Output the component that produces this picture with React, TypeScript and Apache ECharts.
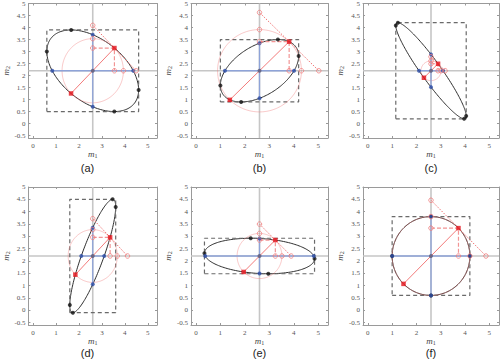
import React, { useEffect, useRef } from "react";
import * as echarts from "echarts";

// ---- data ----
const panelLabels = ["(a)", "(b)", "(c)", "(d)", "(e)", "(f)"];
const meanPoint = [2.6, 2.2];
// standard deviations (half-sizes of dashed box) and correlation per panel
const sigma1 = [2.0, 1.6, 1.45, 1.0, 2.25, 1.6];
const sigma2 = [1.7, 1.3, 2.0, 2.3, 0.72, 1.6];
const rho = [-0.47, 0.47, -0.94, 0.866, -0.16, 0];
const xTicks = [0, 1, 2, 3, 4, 5];
const yTicks = [-0.5, 0, 0.5, 1, 1.5, 2, 2.5, 3, 3.5, 4, 4.5, 5];
const xRange = [-0.2, 5.4];
const yRange = [-0.6, 5];

// ---- layout ----
const boxes = [
  [18, 2, 139, 136],
  [191, 2, 137, 136],
  [363, 2, 136, 136],
  [18, 187, 139, 138],
  [191, 187, 137, 138],
  [363, 187, 136, 138],
];

const SERIF = "'Liberation Serif', 'DejaVu Serif', serif";
const FRAME = "#9a9a9a";

function buildOption() {
  const grid: any[] = [];
  const xAxis: any[] = [];
  const yAxis: any[] = [];
  const series: any[] = [];
  const graphic: any[] = [];
  const [m1, m2] = meanPoint;

  const nameRich = {
    m: { fontFamily: SERIF, fontStyle: "italic", fontSize: 9, color: "#444", lineHeight: 10 },
    s: { fontFamily: SERIF, fontSize: 6, color: "#444", verticalAlign: "bottom", lineHeight: 8 },
  };

  boxes.forEach((b, i) => {
    grid.push({ left: b[0], top: b[1], width: b[2], height: b[3], show: false });
    const common = {
      gridIndex: i,
      type: "value",
      axisLine: { show: true, onZero: false, lineStyle: { color: FRAME, width: 1 } },
      splitLine: { show: false },
    };
    xAxis.push({
      ...common,
      min: xRange[0],
      max: xRange[1],
      position: "bottom",
      axisTick: { show: true, inside: true, length: 2, lineStyle: { color: FRAME }, customValues: xTicks },
      axisLabel: {
        show: true, customValues: xTicks, fontFamily: SERIF, fontSize: 7, color: "#555", margin: 4,
      },
      name: "{m|m}{s|1}",
      nameLocation: "middle",
      nameGap: 9,
      nameTextStyle: { color: "#444", rich: nameRich },
    });
    xAxis.push({
      ...common,
      min: xRange[0],
      max: xRange[1],
      position: "top",
      axisTick: { show: true, inside: true, length: 2, lineStyle: { color: FRAME }, customValues: xTicks },
      axisLabel: { show: false },
    });
    yAxis.push({
      ...common,
      min: yRange[0],
      max: yRange[1],
      position: "left",
      axisTick: { show: true, inside: true, length: 2, lineStyle: { color: FRAME }, customValues: yTicks },
      axisLabel: {
        show: true, customValues: yTicks, fontFamily: SERIF, fontSize: 7, color: "#555", margin: 3,
      },
      name: "{m|m}{s|2}",
      nameLocation: "middle",
      nameGap: 12,
      nameRotate: 90,
      nameTextStyle: { color: "#444", rich: nameRich },
    });
    yAxis.push({
      ...common,
      min: yRange[0],
      max: yRange[1],
      position: "right",
      axisTick: { show: true, inside: true, length: 2, lineStyle: { color: FRAME }, customValues: yTicks },
      axisLabel: { show: false },
    });

    const xi = 2 * i;
    const yi = 2 * i;
    const s1 = sigma1[i];
    const s2 = sigma2[i];
    const r = rho[i];
    const q = Math.sqrt(1 - r * r);
    const h1 = s1 * q;
    const h2 = s2 * q;
    const t = Math.sqrt((s1 * s1 * s2 * s2 * (1 - r * r)) / (s1 * s1 + s2 * s2 - 2 * r * s1 * s2));
    const rad = t * Math.SQRT2;

    const line = (data: number[][], color: string, width: number, type: any = "solid", z = 2) => ({
      type: "line",
      xAxisIndex: xi,
      yAxisIndex: yi,
      data,
      symbol: "none",
      silent: true,
      z,
      lineStyle: { color, width, type },
    });
    const dots = (data: number[][], color: string, size: number, symbol = "circle", z = 5) => ({
      type: "scatter",
      xAxisIndex: xi,
      yAxisIndex: yi,
      data,
      symbol,
      symbolSize: size,
      silent: true,
      z,
      itemStyle: { color },
    });
    const curve = (a1: number, a2: number, c: number, color: string, width: number, z: number) => ({
      type: "custom",
      xAxisIndex: xi,
      yAxisIndex: yi,
      data: [[m1, m2]],
      silent: true,
      z,
      renderItem: (_p: any, api: any) => {
        const pts: number[][] = [];
        const qq = Math.sqrt(1 - c * c);
        for (let k = 0; k <= 180; k++) {
          const th = (k / 180) * Math.PI * 2;
          const x = m1 + a1 * Math.cos(th);
          const y = m2 + a2 * (c * Math.cos(th) + qq * Math.sin(th));
          pts.push(api.coord([x, y]));
        }
        return {
          type: "polyline",
          shape: { points: pts },
          style: { fill: null, stroke: color, lineWidth: width },
        };
      },
    });

    // mean cross lines (light gray)
    series.push(line([[xRange[0], m2], [xRange[1], m2]], "#c6c6c6", 1.6, "solid", 1));
    series.push(line([[m1, yRange[0]], [m1, yRange[1]]], "#c6c6c6", 1.6, "solid", 1));
    // ellipse
    series.push(curve(s1, s2, r, "#2e2e2e", 1, 2));
    // dashed bounding box
    series.push(
      line(
        [
          [m1 - s1, m2 - s2],
          [m1 + s1, m2 - s2],
          [m1 + s1, m2 + s2],
          [m1 - s1, m2 + s2],
          [m1 - s1, m2 - s2],
        ],
        "#6a6a6a",
        1.2,
        [4, 3],
        2
      )
    );
    // pink circle
    series.push(curve(rad, rad, 0, "rgba(240,120,120,0.4)", 1, 3));
    // blue conditional lines
    series.push(line([[m1 - h1, m2], [m1 + h1, m2]], "#8ea3d8", 1.3, "solid", 3));
    series.push(line([[m1, m2 - h2], [m1, m2 + h2]], "#8ea3d8", 1.3, "solid", 3));
    // red diameter
    series.push(line([[m1 - t, m2 - t], [m1 + t, m2 + t]], "#f37b7b", 1, "solid", 3));
    // red dashed projections
    series.push(line([[m1, m2 + t], [m1 + t, m2 + t], [m1 + t, m2]], "#f29494", 1.2, [4, 2], 3));
    // red dotted tangent
    series.push(line([[m1, m2 + 2 * t], [m1 + 2 * t, m2]], "#f07070", 1, [1.5, 1.5], 3));
    // black extreme points
    series.push(
      dots(
        [
          [m1 + s1, m2 + r * s2],
          [m1 - s1, m2 - r * s2],
          [m1 + r * s1, m2 + s2],
          [m1 - r * s1, m2 - s2],
        ],
        "#111",
        4
      )
    );
    // blue points
    series.push(
      dots(
        [
          [m1 - h1, m2],
          [m1 + h1, m2],
          [m1, m2 - h2],
          [m1, m2 + h2],
        ],
        "#2c4ca6",
        4,
        "circle",
        6
      )
    );
    series.push(dots([[m1, m2]], "#5a5a78", 4, "circle", 6));
    // hollow pink markers
    series.push({
      type: "scatter",
      xAxisIndex: xi,
      yAxisIndex: yi,
      silent: true,
      z: 6,
      symbol: "circle",
      symbolSize: 4.5,
      itemStyle: { color: "rgba(255,255,255,0)", borderColor: "#f07c7c", borderWidth: 1 },
      data: [
        [m1 + t, m2],
        [m1 + rad, m2],
        [m1 + 2 * t, m2],
        [m1, m2 + t],
        [m1, m2 + rad],
        [m1, m2 + 2 * t],
      ],
    });
    // red squares
    series.push(dots([[m1 + t, m2 + t], [m1 - t, m2 - t]], "#e5131b", 4.5, "rect", 7));

    graphic.push({
      type: "text",
      x: b[0] + b[2] / 2,
      y: i < 3 ? 168 : 353,
      style: {
        text: panelLabels[i],
        fontFamily: "'Liberation Sans', Arial, sans-serif",
        fontSize: 11,
        fill: "#222",
        textAlign: "center",
        textVerticalAlign: "middle",
      },
    });
  });

  return { animation: false, backgroundColor: "#fff", grid, xAxis, yAxis, series, graphic };
}

export default function App() {
  const ref = useRef<HTMLDivElement>(null);
  useEffect(() => {
    if (!ref.current) return;
    const chart = echarts.init(ref.current, null, { renderer: "svg" });
    chart.setOption(buildOption() as any);
    return () => chart.dispose();
  }, []);
  return <div ref={ref} style={{ width: 500, height: 363, position: "absolute", left: 0, top: 0 }} />;
}
